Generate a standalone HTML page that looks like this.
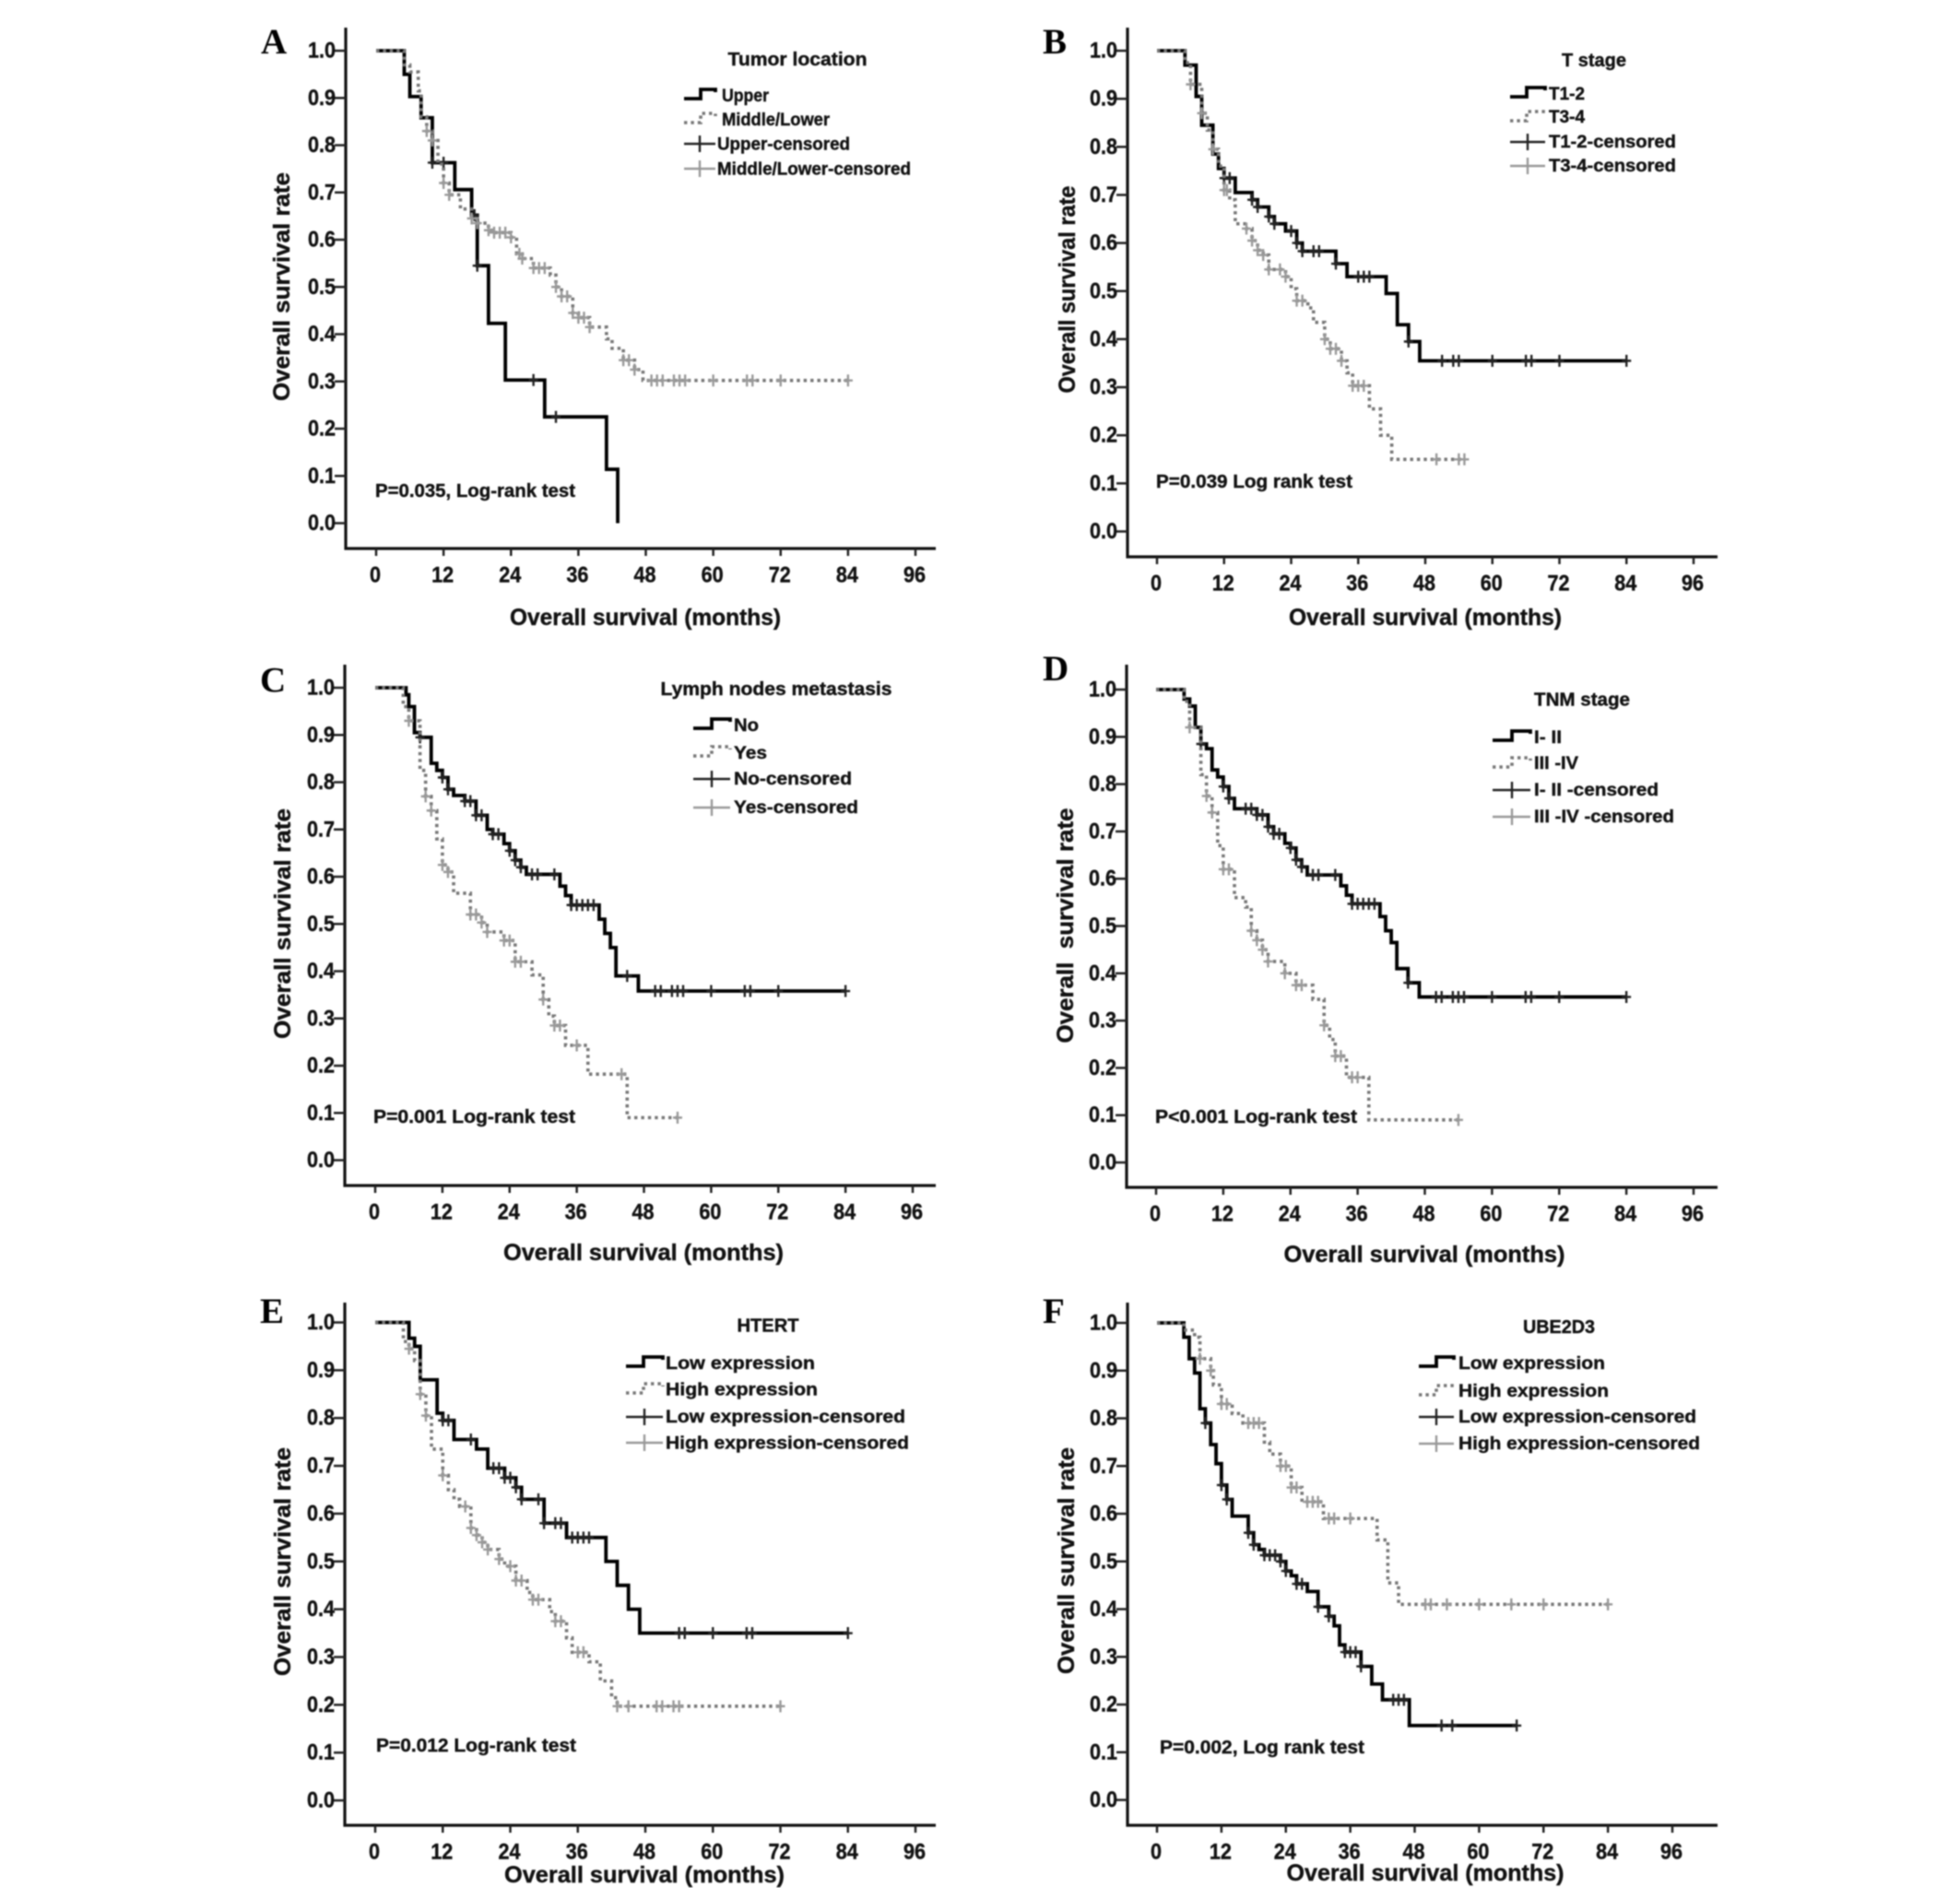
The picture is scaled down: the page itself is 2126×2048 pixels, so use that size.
<!DOCTYPE html>
<html lang="en">
<head>
<meta charset="utf-8">
<title>Kaplan-Meier overall survival curves</title>
<style>
html,body{margin:0;padding:0;background:#fff}
svg{display:block;filter:blur(.7px)}
text{font-family:"Liberation Sans",sans-serif;font-weight:bold;fill:#111;stroke:#111;stroke-width:.4px;dominant-baseline:central}
.letter{font-family:"Liberation Serif",serif;font-size:39px;fill:#000;stroke:none;dominant-baseline:alphabetic}
.axt{font-size:25px;text-anchor:middle}
.leg{font-size:19.5px}
.ltitle{font-size:20px;text-anchor:middle}
.ptxt{font-size:20px}
.tick{font-size:24px}
.s{fill:none;stroke:#000;stroke-width:3.8}
.d{fill:none;stroke:#777;stroke-width:3.6;stroke-dasharray:3.4 4}
.c1{stroke:#222;stroke-width:2.4;fill:none}
.c2{stroke:#999;stroke-width:2.4;fill:none}
</style>
</head>
<body>
<svg id="fig" xmlns="http://www.w3.org/2000/svg" width="2126" height="2048" viewBox="0 0 2126 2048">
<rect width="2126" height="2048" fill="#fff"/>

<g id="panel-a">
<text class="letter" x="283" y="58">A</text>
<text class="ltitle" x="865" y="65" textLength="151" lengthAdjust="spacingAndGlyphs">Tumor location</text>
<path class="s" d="M742 107H760V97H776V100"/>
<text class="leg" x="783" y="104" textLength="51" lengthAdjust="spacingAndGlyphs">Upper</text>
<path class="d" d="M742 133H760V123H776V126"/>
<text class="leg" x="783" y="130" textLength="117" lengthAdjust="spacingAndGlyphs">Middle/Lower</text>
<path class="c1" d="M742 156H776M759 147V165"/>
<text class="leg" x="778" y="156.500" textLength="144" lengthAdjust="spacingAndGlyphs">Upper-censored</text>
<path class="c2" d="M742 183H776M759 174V192"/>
<text class="leg" x="778" y="183.500" textLength="210" lengthAdjust="spacingAndGlyphs">Middle/Lower-censored</text>
<text class="ptxt" x="407" y="533" textLength="217" lengthAdjust="spacingAndGlyphs">P=0.035, Log-rank test</text>
<text class="axt" x="700" y="670" textLength="294" lengthAdjust="spacingAndGlyphs">Overall survival (months)</text>
<text class="axt" transform="translate(306 311) rotate(-90)" textLength="248" lengthAdjust="spacingAndGlyphs">Overall survival rate</text>
</g>

<g id="panel-b">
<text class="letter" x="1131" y="58">B</text>
<text class="ltitle" x="1729" y="66" textLength="70" lengthAdjust="spacingAndGlyphs">T stage</text>
<path class="s" d="M1638 105H1656V95H1676V98"/>
<text class="leg" x="1680" y="102" textLength="39" lengthAdjust="spacingAndGlyphs">T1-2</text>
<path class="d" d="M1638 131H1656V121H1676V124"/>
<text class="leg" x="1680" y="127" textLength="39" lengthAdjust="spacingAndGlyphs">T3-4</text>
<path class="c1" d="M1638 154H1676M1657 145V163"/>
<text class="leg" x="1680" y="154" textLength="138" lengthAdjust="spacingAndGlyphs">T1-2-censored</text>
<path class="c2" d="M1638 180H1676M1657 171V189"/>
<text class="leg" x="1680" y="180" textLength="138" lengthAdjust="spacingAndGlyphs">T3-4-censored</text>
<text class="ptxt" x="1254" y="523" textLength="213" lengthAdjust="spacingAndGlyphs">P=0.039 Log rank test</text>
<text class="axt" x="1546" y="670" textLength="296" lengthAdjust="spacingAndGlyphs">Overall survival (months)</text>
<text class="axt" transform="translate(1158 314) rotate(-90)" textLength="225" lengthAdjust="spacingAndGlyphs">Overall survival rate</text>
</g>

<g id="panel-c">
<text class="letter" x="282" y="750.500">C</text>
<text class="ltitle" x="842" y="748" textLength="251" lengthAdjust="spacingAndGlyphs">Lymph nodes metastasis</text>
<path class="s" d="M752 790H772V780H792V783"/>
<text class="leg" x="796" y="787" textLength="27" lengthAdjust="spacingAndGlyphs">No</text>
<path class="d" d="M752 820H772V810H792V813"/>
<text class="leg" x="796" y="817" textLength="36" lengthAdjust="spacingAndGlyphs">Yes</text>
<path class="c1" d="M752 845H792M772 836V854"/>
<text class="leg" x="796" y="845" textLength="128" lengthAdjust="spacingAndGlyphs">No-censored</text>
<path class="c2" d="M752 876H792M772 867V885"/>
<text class="leg" x="796" y="876" textLength="135" lengthAdjust="spacingAndGlyphs">Yes-censored</text>
<text class="ptxt" x="405" y="1212" textLength="219" lengthAdjust="spacingAndGlyphs">P=0.001 Log-rank test</text>
<text class="axt" x="698" y="1359" textLength="304" lengthAdjust="spacingAndGlyphs">Overall survival (months)</text>
<text class="axt" transform="translate(307 1002) rotate(-90)" textLength="250" lengthAdjust="spacingAndGlyphs">Overall survival rate</text>
</g>

<g id="panel-d">
<text class="letter" x="1131" y="738">D</text>
<text class="ltitle" x="1716" y="759.500" textLength="104" lengthAdjust="spacingAndGlyphs">TNM stage</text>
<path class="s" d="M1619 803H1640V793H1660V796"/>
<text class="leg" x="1664" y="800" textLength="30" lengthAdjust="spacingAndGlyphs">I- II</text>
<path class="d" d="M1619 832H1640V822H1660V825"/>
<text class="leg" x="1664" y="828" textLength="48" lengthAdjust="spacingAndGlyphs">III -IV</text>
<path class="c1" d="M1619 857H1660M1640 848V866"/>
<text class="leg" x="1664" y="857" textLength="135" lengthAdjust="spacingAndGlyphs">I- II -censored</text>
<path class="c2" d="M1619 886H1660M1640 877V895"/>
<text class="leg" x="1664" y="886" textLength="152" lengthAdjust="spacingAndGlyphs">III -IV -censored</text>
<text class="ptxt" x="1253" y="1212" textLength="219" lengthAdjust="spacingAndGlyphs">P&lt;0.001 Log-rank test</text>
<text class="axt" x="1545" y="1361" textLength="305" lengthAdjust="spacingAndGlyphs">Overall survival (months)</text>
<text class="axt" xml:space="preserve" transform="translate(1156 1004) rotate(-90)" textLength="255" lengthAdjust="spacingAndGlyphs">Overall  survival rate</text>
</g>

<g id="panel-e">
<text class="letter" x="282" y="1435">E</text>
<text class="ltitle" x="833" y="1438.500" textLength="67" lengthAdjust="spacingAndGlyphs">HTERT</text>
<path class="s" d="M679 1482H698V1472H719V1475"/>
<text class="leg" x="722" y="1479" textLength="162" lengthAdjust="spacingAndGlyphs">Low expression</text>
<path class="d" d="M679 1511H698V1501H719V1504"/>
<text class="leg" x="722" y="1507.500" textLength="165" lengthAdjust="spacingAndGlyphs">High expression</text>
<path class="c1" d="M679 1537H719M699 1528V1546"/>
<text class="leg" x="722" y="1537" textLength="260" lengthAdjust="spacingAndGlyphs">Low expression-censored</text>
<path class="c2" d="M679 1565H719M699 1556V1574"/>
<text class="leg" x="722" y="1565.500" textLength="264" lengthAdjust="spacingAndGlyphs">High expression-censored</text>
<text class="ptxt" x="408" y="1894" textLength="217" lengthAdjust="spacingAndGlyphs">P=0.012 Log-rank test</text>
<text class="axt" x="699" y="2034" textLength="304" lengthAdjust="spacingAndGlyphs">Overall survival (months)</text>
<text class="axt" transform="translate(307 1694) rotate(-90)" textLength="248" lengthAdjust="spacingAndGlyphs">Overall survival rate</text>
</g>

<g id="panel-f">
<text class="letter" x="1131" y="1435">F</text>
<text class="ltitle" x="1691" y="1440" textLength="78" lengthAdjust="spacingAndGlyphs">UBE2D3</text>
<path class="s" d="M1539 1482H1558V1472H1577V1475"/>
<text class="leg" x="1582" y="1479" textLength="159" lengthAdjust="spacingAndGlyphs">Low expression</text>
<path class="d" d="M1539 1513H1558V1503H1577V1506"/>
<text class="leg" x="1582" y="1509" textLength="163" lengthAdjust="spacingAndGlyphs">High expression</text>
<path class="c1" d="M1539 1537H1577M1558 1528V1546"/>
<text class="leg" x="1582" y="1537" textLength="258" lengthAdjust="spacingAndGlyphs">Low expression-censored</text>
<path class="c2" d="M1539 1566H1577M1558 1557V1575"/>
<text class="leg" x="1582" y="1566" textLength="262" lengthAdjust="spacingAndGlyphs">High expression-censored</text>
<text class="ptxt" x="1258" y="1896" textLength="222" lengthAdjust="spacingAndGlyphs">P=0.002, Log rank test</text>
<text class="axt" x="1546" y="2032" textLength="301" lengthAdjust="spacingAndGlyphs">Overall survival (months)</text>
<text class="axt" transform="translate(1157 1693) rotate(-90)" textLength="246" lengthAdjust="spacingAndGlyphs">Overall survival rate</text>
</g>
</svg>

<script>
// Axis tick labels
const xTickLabels = [0,12,24,36,48,60,72,84,96];
const yTickLabels = ['0.0','0.1','0.2','0.3','0.4','0.5','0.6','0.7','0.8','0.9','1.0'];

// Panel A: tumor location
const aUpperMonths = [0,5,6,8,10,14,17,18,20,23,30,41,43];
const aUpperRates = [1,.95,.903,.858,.763,.706,.652,.545,.423,.303,.225,.114,0];
const aUpperCensored = [10,12,17.5,18,28,32];
const aLowerMonths = [0,5,6,7.5,8,9,10,11,12,13,15,17,18,20,21,24,25,26,28,31,32,33,35,36,38,41,42,44,46,47.5];
const aLowerRates = [1,.97,.955,.915,.86,.83,.81,.76,.72,.695,.665,.645,.635,.62,.615,.605,.57,.56,.54,.525,.5,.48,.445,.435,.415,.39,.37,.345,.325,.302];
const aLowerCensored = [9,10,12,13,17,18,20,21,22,23,24,25.5,26,28,29,30,32,33,34,35,36,37,38,44,45,46,49,50,51,53,54,55,60,66,67,72,84];

// Panel B: T stage
const bT12Months = [0,5,7,8,10,11,12,14,17,18,20,21,23,25,26,32,34,41,43,45,47];
const bT12Rates = [1,.97,.905,.845,.785,.755,.735,.705,.69,.675,.655,.64,.625,.6,.583,.557,.53,.495,.43,.395,.355];
const bT12Censored = [12,13,17,18,20,21,24,25,26,28,29,32,36,37,38,45,51,53,54,60,66,67,72,84];
const bT34Months = [0,5,6,8,9,10,11,12,13,14,16,17,18,19,20,23,24,25,27,28,30,31,33,34,35,38,40,42];
const bT34Rates = [1,.975,.93,.87,.835,.795,.76,.71,.69,.64,.63,.605,.585,.575,.545,.53,.505,.48,.465,.435,.4,.38,.355,.33,.303,.255,.2,.15];
const bT34Censored = [6,8,10,12,12.5,16,17,18,19,20,22,23,25,26,30,31,32,33,35,36,37,50,54,55];

// Panel C: lymph node metastasis
const cNoMonths = [0,5.5,6,7,8,10,11,12,13,14,16,18,20,21,23,24,25,26,27,33,34,35,40,41,42,43,47];
const cNoRates = [1,.985,.96,.905,.895,.84,.825,.81,.785,.772,.76,.73,.7,.69,.67,.655,.635,.62,.605,.58,.56,.54,.51,.48,.45,.39,.358];
const cNoCensored = [8,12,13,16,17,18,19,21,22,24,25,26,28,29,32,35,36,37,38,39,45,50,51,53,54,55,60,66,67,72,84];
const cYesMonths = [0,5,6,8,9,10,11,12,13,14,17,19,20,23,25,28,30,31,32,34,38,45];
const cYesRates = [1,.96,.93,.825,.77,.74,.68,.625,.61,.565,.52,.503,.483,.465,.42,.392,.34,.305,.285,.243,.182,.09];
const cYesCensored = [6,9,10,12,13,17,18,19,20,23,24,25,26,30,32,33,36,44,54];

// Panel D: TNM stage
const dEarlyMonths = [0,5,6,7,8,9,10,11,12,13,14,18,20,21,23,24,25,26,27,33,34,35,40,41,42,43,45,47];
const dEarlyRates = [1,.98,.965,.92,.885,.875,.83,.815,.795,.77,.748,.735,.71,.695,.675,.665,.64,.625,.608,.585,.565,.547,.52,.49,.465,.41,.38,.35];
const dEarlyCensored = [8,12,13,16,17,18,19,20,21,22,24,25,26,28,29,32,35,36,37,38,39,45,50,51,53,54,55,60,66,67,72,84];
const dLateMonths = [0,5,6,8,9,10,11,12,14,16,17,18,19,20,23,25,28,30,31,32,34,38];
const dLateRates = [1,.975,.92,.82,.775,.74,.67,.62,.56,.54,.49,.47,.45,.425,.4,.375,.345,.29,.26,.225,.18,.09];
const dLateCensored = [6,9,10,12,13,17,18,19,20,23,25,26,30,32,33,35,36,54];

// Panel E: HTERT
const eLowMonths = [0,6,7,8,11,12,14,18,20,23,25,26,30,34,41,43,45,47];
const eLowRates = [1,.967,.95,.88,.81,.795,.755,.735,.695,.675,.655,.63,.58,.55,.5,.45,.4,.35];
const eLowCensored = [12,13,17,21,22,23,24,25,26,29,30,32,33,35,36,37,38,54,55,60,66,67,84];
const eHighMonths = [0,5,6,7,8,9,10,12,13,14,15,17,18,19,20,22,23,25,27,28,31,32,34,35,38,40,42,43];
const eHighRates = [1,.96,.945,.92,.85,.805,.735,.68,.65,.63,.615,.57,.555,.54,.525,.505,.49,.46,.435,.42,.395,.375,.34,.31,.29,.25,.215,.197];
const eHighCensored = [6,8,9,12,16,17,18,19,20,22,24,25,26,28,29,32,33,36,37,43,45,50,51,53,54,72];

// Panel F: UBE2D3
const fLowMonths = [0,5,6,7,8,9,10,11,12,13,14,17,18,19,20,23,24,25,26,28,30,32,33,34,35,38,40,42,47];
const fLowRates = [1,.97,.925,.895,.82,.79,.745,.705,.66,.63,.595,.56,.535,.525,.513,.5,.48,.47,.453,.437,.405,.385,.365,.325,.31,.28,.243,.21,.156];
const fLowCensored = [9,12,13,17,18,20,21,22,23,24,26,27,30,32,35,36,37,38,44,45,46,53,55,67];
const fHighMonths = [0,5,7,8,10,10.5,12,14,16,20,21,23,25,27,31,41,43,45];
const fHighRates = [1,.985,.97,.925,.9,.87,.83,.81,.79,.75,.725,.7,.655,.625,.59,.545,.455,.41];
const fHighCensored = [8,10,12,13,17,18,19,23,24,25,26,28,29,30,32,33,36,50,51,54,60,66,72,84];

// Pixel frame of each panel (layout only); solid curves are drawn first, dotted on top
const panels = [
  {id:'a',axisX:375,axisY:595,top:30,right:1015,x0:408,x96:993,y0:567.5,y1:55,
   series:[{name:'upper',cls:'s',mark:'c1',months:aUpperMonths,rates:aUpperRates,cens:aUpperCensored},
           {name:'middle-lower',cls:'d',mark:'c2',months:aLowerMonths,rates:aLowerRates,cens:aLowerCensored}]},
  {id:'b',axisX:1223,axisY:604,top:30,right:1863,x0:1255,x96:1837,y0:576.5,y1:55,
   series:[{name:'t1-2',cls:'s',mark:'c1',months:bT12Months,rates:bT12Rates,cens:bT12Censored},
           {name:'t3-4',cls:'d',mark:'c2',months:bT34Months,rates:bT34Rates,cens:bT34Censored}]},
  {id:'c',axisX:374,axisY:1286,top:721,right:1015,x0:407,x96:990,y0:1258.5,y1:746,
   series:[{name:'no',cls:'s',mark:'c1',months:cNoMonths,rates:cNoRates,cens:cNoCensored},
           {name:'yes',cls:'d',mark:'c2',months:cYesMonths,rates:cYesRates,cens:cYesCensored}]},
  {id:'d',axisX:1222,axisY:1288,top:721,right:1863,x0:1254,x96:1837,y0:1261,y1:748,
   series:[{name:'i-ii',cls:'s',mark:'c1',months:dEarlyMonths,rates:dEarlyRates,cens:dEarlyCensored},
           {name:'iii-iv',cls:'d',mark:'c2',months:dLateMonths,rates:dLateRates,cens:dLateCensored}]},
  {id:'e',axisX:374,axisY:1980,top:1413,right:1015,x0:407,x96:993,y0:1953,y1:1434.5,
   series:[{name:'low-expression',cls:'s',mark:'c1',months:eLowMonths,rates:eLowRates,cens:eLowCensored},
           {name:'high-expression',cls:'d',mark:'c2',months:eHighMonths,rates:eHighRates,cens:eHighCensored}]},
  {id:'f',axisX:1223,axisY:1980,top:1413,right:1863,x0:1255,x96:1814,y0:1952.5,y1:1435,
   series:[{name:'low-expression',cls:'s',mark:'c1',months:fLowMonths,rates:fLowRates,cens:fLowCensored},
           {name:'high-expression',cls:'d',mark:'c2',months:fHighMonths,rates:fHighRates,cens:fHighCensored}]}
];

const NS = 'http://www.w3.org/2000/svg';
function make(tag, parent){
  const node = document.createElementNS(NS, tag);
  parent.appendChild(node);
  return node;
}
function rateAt(months, rates, t){
  let r = rates[0];
  for (let i = 0; i < months.length; i++){ if (months[i] <= t) r = rates[i]; }
  return r;
}
panels.forEach(function(p){
  const g = document.getElementById('panel-' + p.id);
  const xScale = function(m){ return p.x0 + (p.x96 - p.x0) * m / 96; };
  const yScale = function(r){ return p.y0 + (p.y1 - p.y0) * r; };

  const axes = make('path', g);
  
  
  axes.setAttribute('fill', 'none');
  axes.setAttribute('stroke', '#111');
  axes.setAttribute('stroke-width', '3.2');
  axes.setAttribute('d', 'M' + p.axisX + ' ' + p.top + 'V' + p.axisY + 'H' + p.right);

  xTickLabels.forEach(function(v){
    const tick = make('path', g);
    
    
    tick.setAttribute('stroke', '#222');
    tick.setAttribute('stroke-width', '2.5');
    tick.setAttribute('d', 'M' + xScale(v) + ' ' + p.axisY + 'v8');
    const lab = make('text', g);
    
    
    lab.setAttribute('class', 'tick');
    lab.setAttribute('text-anchor', 'middle');
    lab.setAttribute('x', xScale(v) - 1);
    lab.setAttribute('y', p.axisY + 29);
    lab.setAttribute('textLength', String(v).length * 12);
    lab.setAttribute('lengthAdjust', 'spacingAndGlyphs');
    lab.textContent = v;
  });
  yTickLabels.forEach(function(v){
    const tick = make('path', g);
    
    
    tick.setAttribute('stroke', '#222');
    tick.setAttribute('stroke-width', '2.5');
    tick.setAttribute('d', 'M' + p.axisX + ' ' + yScale(+v) + 'h-12');
    const lab = make('text', g);
    
    
    lab.setAttribute('class', 'tick');
    lab.setAttribute('text-anchor', 'end');
    lab.setAttribute('x', p.axisX - 11);
    lab.setAttribute('y', yScale(+v));
    lab.setAttribute('textLength', '30');
    lab.setAttribute('lengthAdjust', 'spacingAndGlyphs');
    lab.textContent = v;
  });

  p.series.forEach(function(s){
    const lastEvent = s.months[s.months.length - 1];
    const lastCens = s.cens.length ? Math.max.apply(null, s.cens) : lastEvent;
    const endMonth = Math.max(lastEvent, lastCens);
    let d = 'M' + xScale(s.months[0]) + ' ' + yScale(s.rates[0]);
    for (let i = 1; i < s.months.length; i++){
      d += 'H' + xScale(s.months[i]) + 'V' + yScale(s.rates[i]);
    }
    d += 'H' + xScale(endMonth);
    const curve = make('path', g);
    
    
    curve.setAttribute('class', s.cls);
    curve.setAttribute('d', d);

    s.cens.forEach(function(t){
      const cx = xScale(t);
      const cy = yScale(rateAt(s.months, s.rates, t));
      const mark = make('path', g);
      
      
      mark.setAttribute('class', s.mark);
      mark.setAttribute('d', 'M' + (cx - 5) + ' ' + cy + 'H' + (cx + 5) + 'M' + cx + ' ' + (cy - 6.5) + 'V' + (cy + 6.5));
    });
  });
});
</script>
</body>
</html>
